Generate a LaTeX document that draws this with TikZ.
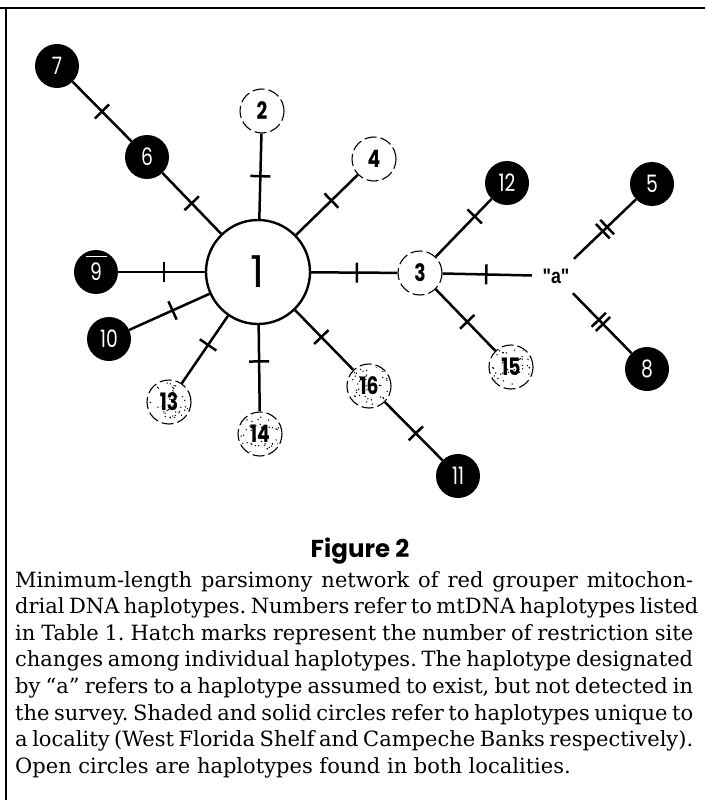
\documentclass[tikz,border=0pt]{standalone}
\usepackage{fontspec}
\setmainfont{DejaVu Serif}
\usetikzlibrary{decorations.markings,calc}
\newfontfamily\numfont{Poppins}
\newfontfamily\quotefont{Liberation Sans}
\newcommand\nlab[1]{\scalebox{0.78}[1]{#1}}
\newcommand\capline[1]{\hbox to 678pt{#1}}
\tikzset{
  hap/.style={circle, inner sep=0pt, minimum size=44pt},
  solidhap/.style={hap, fill=black, text=white, font=\numfont\fontsize{24pt}{24pt}\selectfont},
  openhap/.style={hap, draw, line width=1.1pt, dash pattern=on 12pt off 4pt, fill=white,
    font=\numfont\bfseries\fontsize{24pt}{24pt}\selectfont},
  shadedhap/.style={openhap},
  rootcirc/.style={circle, draw, line width=2.4pt, inner sep=0pt, minimum size=104pt,
    font=\numfont\fontsize{44pt}{44pt}\selectfont},
  edge/.style={line width=2.5pt},
  hatch/.style={postaction={decorate, decoration={markings,
    mark=at position #1 with {\draw[line width=2.5pt] (0,-10pt) -- (0,10pt);}}}},
  dhatch/.style={postaction={decorate, decoration={markings,
    mark=at position #1 with {\draw[line width=2.5pt] (-3pt,-10pt) -- (-3pt,10pt)
      (3pt,-10pt) -- (3pt,10pt);}}}},
}
\begin{document}
\begin{tikzpicture}[x=1pt, y=-1pt]
\useasboundingbox (0,0) rectangle (705,802);

% frame
\draw[line width=2.5pt] (0,8) -- (705,8);
\draw[line width=2.2pt] (6,8) -- (6,800);

% haplotypes
\node[rootcirc] (n1) at (258,272) {1};
\node[openhap] (n2) at (262,111) {\nlab{2}};
\node[openhap] (n3) at (420,273) {\nlab{3}};
\node[openhap] (n4) at (374,159) {\nlab{4}};
\node[solidhap] (n5) at (652,184) {\nlab{5}};
\node[solidhap] (n6) at (147,157) {\nlab{6}};
\node[solidhap] (n7) at (57,66) {\nlab{7}};
\node[solidhap] (n8) at (647,369) {\nlab{8}};
\node[solidhap] (n9) at (96,272) {\nlab{9}};
\node[solidhap] (n10) at (109,339) {\nlab{10}};
\node[solidhap] (n11) at (458,476) {\nlab{11}};
\node[solidhap] (n12) at (507,183) {\nlab{12}};
\node[shadedhap] (n13) at (169,402) {\nlab{13}};
\node[shadedhap] (n14) at (260,434) {\nlab{14}};
\node[shadedhap] (n15) at (511,367) {\nlab{15}};
\node[shadedhap] (n16) at (369,386) {\nlab{16}};
\node[inner sep=0pt, minimum width=48pt, minimum height=34pt,
  font=\quotefont\bfseries\fontsize{21pt}{21pt}\selectfont] (na) at (556,276)
  {\scalebox{0.85}[1]{"a"}};

% bar over 9
\draw[white, line width=0.8pt] ($(n9)+(-10,-16)$) -- ($(n9)+(11,-16)$);

% speckled shading
\pgfmathsetseed{11}
\foreach \n in {n13,n14,n15,n16}{
  \begin{scope}
    \clip (\n) circle (20.5);
    \foreach \k in {1,...,45}{
      \fill ($(\n)+({19*rand},{19*rand})$) circle (0.75);
    }
  \end{scope}
}

% network edges with hatch marks
\draw[edge, hatch=0.5] (n7) -- (n6);
\draw[edge, hatch=0.5] (n6) -- (n1);
\draw[edge, hatch=0.5] (n2) -- (n1);
\draw[edge, hatch=0.43] (n4) -- (n1);
\draw[edge, hatch=0.53] (n9) -- (n1);
\draw[edge, hatch=0.54] (n10) -- (n1);
\draw[edge, hatch=0.57] (n13) -- (n1);
\draw[edge, hatch=0.58] (n14) -- (n1);
\draw[edge, hatch=0.55] (n16) -- (n1);
\draw[edge, hatch=0.54] (n16) -- (n11);
\draw[edge, hatch=0.53] (n1) -- (n3);
\draw[edge, hatch=0.7] (n3) -- (n12);
\draw[edge, hatch=0.53] (n3) -- (n15);
\draw[edge, hatch=0.49] (n3) -- (na);
\draw[edge, dhatch=0.5] (na) -- (n5);
\draw[edge, dhatch=0.48] (na) -- (n8);

% caption
\node[font=\numfont\bfseries\fontsize{24.5pt}{24.5pt}\selectfont, anchor=base] (title)
  at (360,557) {Figure 2};
\node[anchor=north west, inner sep=0pt, align=left,
  font=\frenchspacing\fontsize{21pt}{26.6pt}\selectfont] (cap) at (15,571)
  {\capline{Minimum-length parsimony network of red grouper mitochon-}\\
  \capline{drial DNA haplotypes. Numbers refer to mtDNA haplotypes listed}\\
  \capline{in Table 1. Hatch marks represent the number of restriction site}\\
  \capline{changes among individual haplotypes. The haplotype designated}\\
  \capline{by ``a'' refers to a haplotype assumed to exist, but not detected in}\\
  \capline{the survey. Shaded and solid circles refer to haplotypes unique to}\\
  \capline{a locality (West Florida Shelf and Campeche Banks respectively).}\\
  Open circles are haplotypes found in both localities.};
\end{tikzpicture}
\end{document}
